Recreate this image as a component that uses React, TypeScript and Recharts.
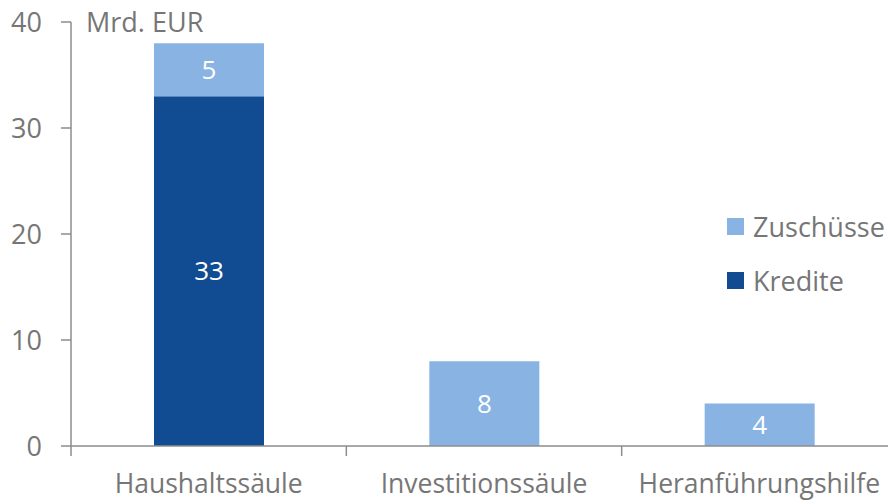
import React from 'react';
import { BarChart, Bar, XAxis, YAxis, LabelList } from 'recharts';

const categories = ['Haushaltssäule', 'Investitionssäule', 'Heranführungshilfe'];
const kredite: (number | null)[] = [33, null, null];
const zuschuesse = [5, 8, 4];
const yTicks = [0, 10, 20, 30, 40];
const unit = 'Mrd. EUR';

// legend is listed top to bottom (reverse of the stack)
const legendItems = [
  { name: 'Zuschüsse', color: '#88B3E3' },
  { name: 'Kredite', color: '#114C92' },
];

const FONT = '"Open Sans", sans-serif';
const GREY_TEXT = '#767676';
const GREY_AXIS = '#8c8c8c';

const CHART_W = 897;
const Y_AXIS_W = 71;
const BAND = (CHART_W - Y_AXIS_W) / categories.length;

const data = categories.map((c, i) => ({
  name: c,
  kredite: kredite[i],
  zuschuesse: zuschuesse[i],
}));

function CatTick(props: any) {
  const { x, y, payload } = props;
  return (
    <g>
      <line x1={x - BAND / 2} x2={x - BAND / 2} y1={y} y2={y + 10} stroke={GREY_AXIS} strokeWidth={1.5} />
      <text x={x} y={y + 47} textAnchor="middle" fill={GREY_TEXT} fontSize={26.5} fontFamily={FONT}>
        {payload.value}
      </text>
    </g>
  );
}

function UnitLabel(props: any) {
  const vb = props.viewBox || {};
  return (
    <text x={vb.x + vb.width + 15} y={vb.y} dy="0.355em" fill={GREY_TEXT} fontSize={27} fontFamily={FONT}>
      {unit}
    </text>
  );
}

function SideLegend() {
  return (
    <div style={{ position: 'absolute', left: 727, top: 199, fontFamily: FONT }}>
      {legendItems.map((it) => (
        <div key={it.name} style={{ display: 'flex', alignItems: 'center', height: 54 }}>
          <span style={{ width: 17, height: 17, background: it.color, display: 'inline-block', marginRight: 9 }} />
          <span style={{ fontSize: 27, color: GREY_TEXT }}>{it.name}</span>
        </div>
      ))}
    </div>
  );
}

const hideEmpty = (v: any) => (v == null || v === 0 ? '' : v);

export default function App() {
  return (
    <div style={{ position: 'absolute', left: 0, top: 0, width: 888, height: 502, overflow: 'hidden', background: '#fff' }}>
      <BarChart
        width={CHART_W}
        height={502}
        data={data}
        margin={{ top: 22, right: 0, bottom: 0, left: 0 }}
      >
        <XAxis
          dataKey="name"
          height={56}
          tickSize={0}
          tickMargin={0}
          tick={<CatTick />}
          axisLine={{ stroke: GREY_AXIS, strokeWidth: 1.5 }}
          interval={0}
        />
        <YAxis
          width={Y_AXIS_W}
          domain={[0, 40]}
          ticks={yTicks}
          tickSize={10}
          tickMargin={19}
          axisLine={{ stroke: GREY_AXIS, strokeWidth: 1.5 }}
          tickLine={{ stroke: GREY_AXIS, strokeWidth: 1.5 }}
          tick={{ fill: GREY_TEXT, fontSize: 27, fontFamily: FONT }}
          label={<UnitLabel />}
        />
        <Bar dataKey="kredite" name="Kredite" stackId="a" fill="#114C92" barSize={110} isAnimationActive={false}>
          <LabelList dataKey="kredite" position="center" fill="#fff" fontSize={26} fontFamily={FONT} formatter={hideEmpty} />
        </Bar>
        <Bar dataKey="zuschuesse" name="Zuschüsse" stackId="a" fill="#88B3E3" barSize={110} isAnimationActive={false}>
          <LabelList dataKey="zuschuesse" position="center" fill="#fff" fontSize={26} fontFamily={FONT} formatter={hideEmpty} />
        </Bar>
      </BarChart>
      <SideLegend />
    </div>
  );
}
